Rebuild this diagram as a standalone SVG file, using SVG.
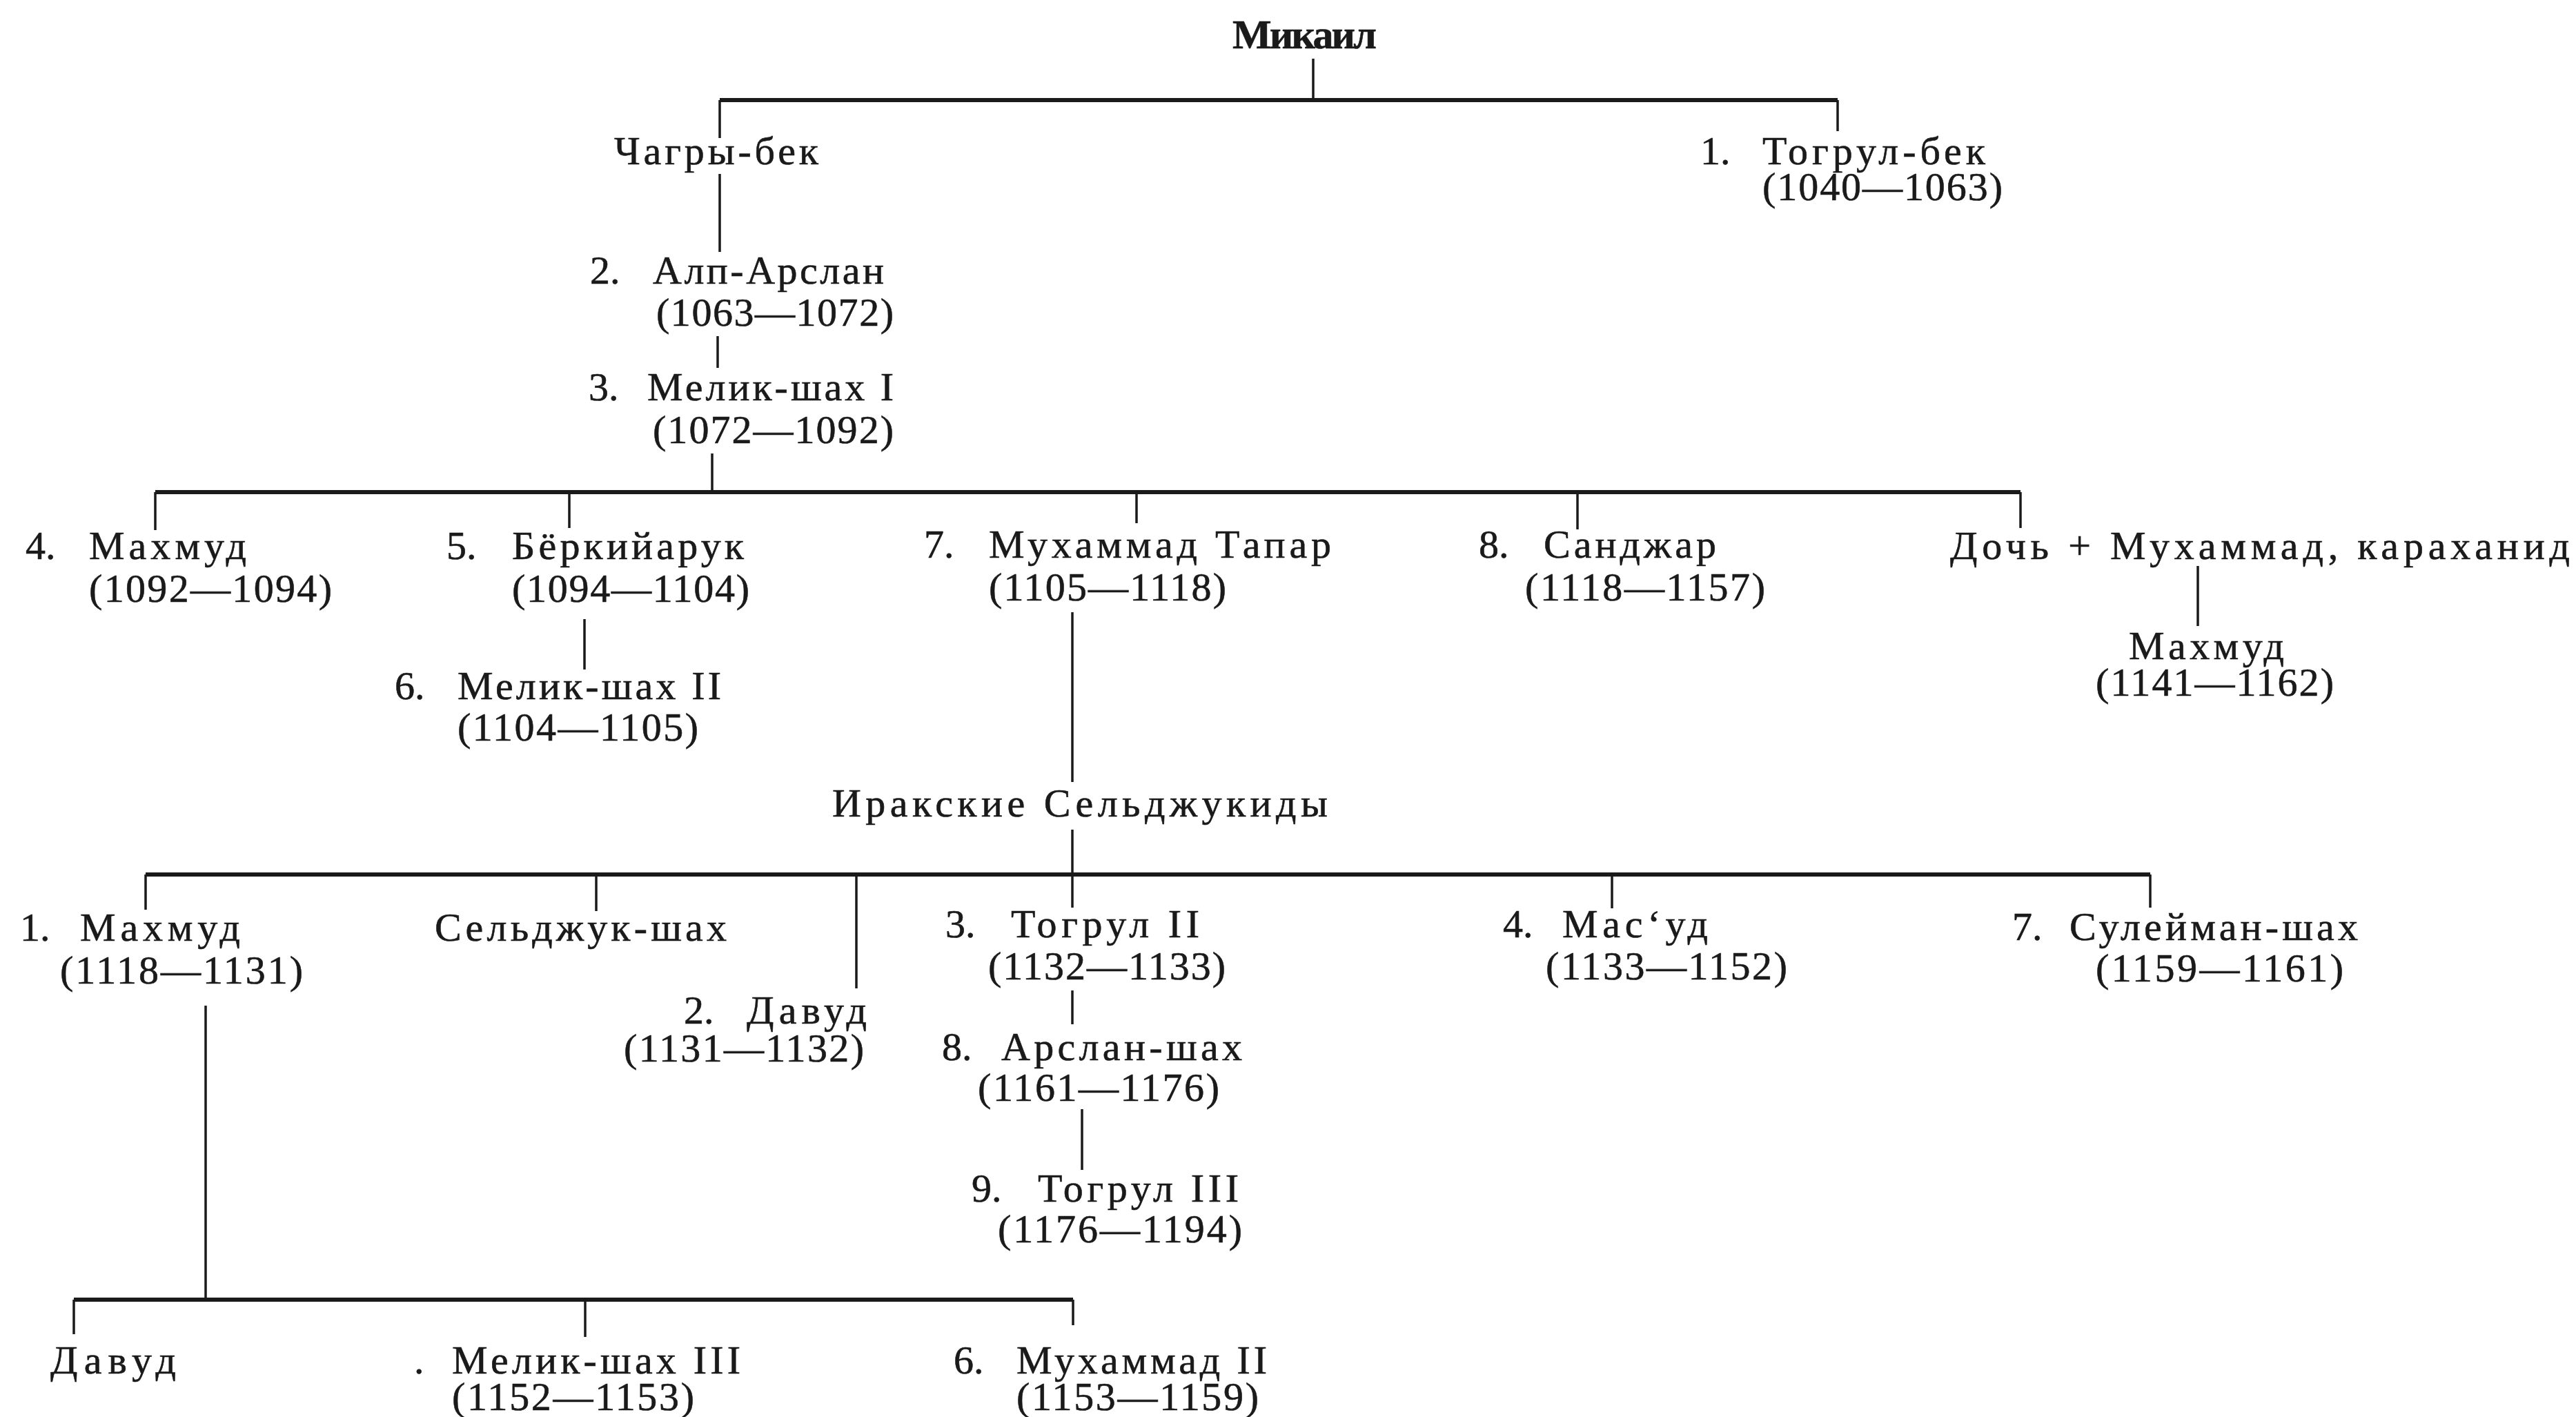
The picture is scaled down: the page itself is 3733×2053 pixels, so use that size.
<svg xmlns="http://www.w3.org/2000/svg" width="3733" height="2053" viewBox="0 0 3733 2053">
<style>
.t{font-family:"Liberation Serif","Times New Roman",serif;font-size:58px;fill:#1a1a1a;stroke:#1a1a1a;stroke-width:0.6}
.b{font-weight:bold;font-size:60px}
.v{stroke:#1a1a1a;stroke-width:3.5;fill:none}
.h{stroke:#1a1a1a;stroke-width:6;fill:none}
</style>
<rect width="3733" height="2053" fill="#ffffff"/>
<g id="connectors">
<line class="v" x1="1903" y1="85" x2="1903" y2="145"/>
<line class="h" x1="1043" y1="145" x2="2663" y2="145"/>
<line class="v" x1="1043" y1="145" x2="1043" y2="200"/>
<line class="v" x1="2663" y1="145" x2="2663" y2="190"/>
<line class="v" x1="1043" y1="252" x2="1043" y2="365"/>
<line class="v" x1="1040" y1="487" x2="1040" y2="533"/>
<line class="v" x1="1032" y1="657" x2="1032" y2="713"/>
<line class="h" x1="225" y1="713" x2="2928" y2="713"/>
<line class="v" x1="225" y1="713" x2="225" y2="768"/>
<line class="v" x1="825" y1="713" x2="825" y2="765"/>
<line class="v" x1="1647" y1="713" x2="1647" y2="758"/>
<line class="v" x1="2286" y1="713" x2="2286" y2="767"/>
<line class="v" x1="2928" y1="713" x2="2928" y2="765"/>
<line class="v" x1="847" y1="897" x2="847" y2="970"/>
<line class="v" x1="3185" y1="820" x2="3185" y2="907"/>
<line class="v" x1="1554" y1="887" x2="1554" y2="1133"/>
<line class="v" x1="1554" y1="1202" x2="1554" y2="1267"/>
<line class="h" x1="211" y1="1267" x2="3116" y2="1267"/>
<line class="v" x1="211" y1="1267" x2="211" y2="1318"/>
<line class="v" x1="864" y1="1267" x2="864" y2="1320"/>
<line class="v" x1="1241" y1="1267" x2="1241" y2="1432"/>
<line class="v" x1="1554" y1="1267" x2="1554" y2="1315"/>
<line class="v" x1="2336" y1="1267" x2="2336" y2="1316"/>
<line class="v" x1="3116" y1="1267" x2="3116" y2="1315"/>
<line class="v" x1="1554" y1="1435" x2="1554" y2="1484"/>
<line class="v" x1="1568" y1="1607" x2="1568" y2="1695"/>
<line class="v" x1="298" y1="1457" x2="298" y2="1883"/>
<line class="h" x1="107" y1="1883" x2="1555" y2="1883"/>
<line class="v" x1="107" y1="1883" x2="107" y2="1933"/>
<line class="v" x1="848" y1="1883" x2="848" y2="1937"/>
<line class="v" x1="1555" y1="1883" x2="1555" y2="1920"/>
</g>
<g id="n-mikail"><text class="t b" x="1786" y="70" textLength="209">Микаил</text></g>
<g id="n-chagry"><text class="t" x="890" y="238" textLength="296">Чагры-бек</text></g>
<g id="n-togrul1"><text class="t" x="2464" y="238">1.</text><text class="t" x="2554" y="238" textLength="323">Тогрул-бек</text><text class="t" x="2554" y="290" textLength="348">(1040—1063)</text></g>
<g id="n-alp"><text class="t" x="855" y="411">2.</text><text class="t" x="946" y="411" textLength="335">Алп-Арслан</text><text class="t" x="951" y="472" textLength="344">(1063—1072)</text></g>
<g id="n-melik1"><text class="t" x="853" y="580">3.</text><text class="t" x="938" y="580" textLength="357">Мелик-шах I</text><text class="t" x="946" y="642" textLength="349">(1072—1092)</text></g>
<g id="n-mahmud4"><text class="t" x="37" y="810">4.</text><text class="t" x="129" y="810" textLength="228">Махмуд</text><text class="t" x="129" y="872" textLength="352">(1092—1094)</text></g>
<g id="n-berkiyaruk"><text class="t" x="647" y="810">5.</text><text class="t" x="742" y="810" textLength="336">Бёркийарук</text><text class="t" x="742" y="872" textLength="344">(1094—1104)</text></g>
<g id="n-melik2"><text class="t" x="572" y="1013">6.</text><text class="t" x="663" y="1013" textLength="382">Мелик-шах II</text><text class="t" x="663" y="1073" textLength="349">(1104—1105)</text></g>
<g id="n-tapar"><text class="t" x="1339" y="808">7.</text><text class="t" x="1433" y="808" textLength="496">Мухаммад Тапар</text><text class="t" x="1433" y="870" textLength="344">(1105—1118)</text></g>
<g id="n-sanjar"><text class="t" x="2143" y="808">8.</text><text class="t" x="2237" y="808" textLength="250">Санджар</text><text class="t" x="2210" y="870" textLength="348">(1118—1157)</text></g>
<g id="n-doch"><text class="t" x="2826" y="810" textLength="898">Дочь + Мухаммад,  караханид</text></g>
<g id="n-mahmud-k"><text class="t" x="3085" y="955" textLength="225">Махмуд</text><text class="t" x="3037" y="1008" textLength="345">(1141—1162)</text></g>
<g id="n-iraq"><text class="t" x="1206" y="1183" textLength="718">Иракские  Сельджукиды</text></g>
<g id="n-mahmud1"><text class="t" x="29" y="1363">1.</text><text class="t" x="116" y="1363" textLength="232">Махмуд</text><text class="t" x="87" y="1425" textLength="352">(1118—1131)</text></g>
<g id="n-seljukshah"><text class="t" x="630" y="1363" textLength="423">Сельджук-шах</text></g>
<g id="n-davud2"><text class="t" x="991" y="1483">2.</text><text class="t" x="1082" y="1483" textLength="174">Давуд</text><text class="t" x="904" y="1538" textLength="348">(1131—1132)</text></g>
<g id="n-togrul2"><text class="t" x="1370" y="1358">3.</text><text class="t" x="1465" y="1358" textLength="273">Тогрул II</text><text class="t" x="1432" y="1419" textLength="344">(1132—1133)</text></g>
<g id="n-arslanshah"><text class="t" x="1365" y="1536">8.</text><text class="t" x="1451" y="1536" textLength="349">Арслан-шах</text><text class="t" x="1417" y="1595" textLength="350">(1161—1176)</text></g>
<g id="n-togrul3"><text class="t" x="1408" y="1741">9.</text><text class="t" x="1504" y="1741" textLength="291">Тогрул III</text><text class="t" x="1446" y="1800" textLength="354">(1176—1194)</text></g>
<g id="n-masud"><text class="t" x="2178" y="1358">4.</text><text class="t" x="2264" y="1358" textLength="211">Мас‘уд</text><text class="t" x="2240" y="1419" textLength="350">(1133—1152)</text></g>
<g id="n-suleiman"><text class="t" x="2916" y="1362">7.</text><text class="t" x="2999" y="1362" textLength="418">Сулейман-шах</text><text class="t" x="3037" y="1422" textLength="359">(1159—1161)</text></g>
<g id="n-davud"><text class="t" x="73" y="1990" textLength="182">Давуд</text></g>
<g id="n-melik3"><text class="t" x="600" y="1990">.</text><text class="t" x="655" y="1990" textLength="418">Мелик-шах III</text><text class="t" x="655" y="2043" textLength="351">(1152—1153)</text></g>
<g id="n-muhammad2"><text class="t" x="1382" y="1990">6.</text><text class="t" x="1473" y="1990" textLength="363">Мухаммад II</text><text class="t" x="1473" y="2043" textLength="351">(1153—1159)</text></g>
</svg>
